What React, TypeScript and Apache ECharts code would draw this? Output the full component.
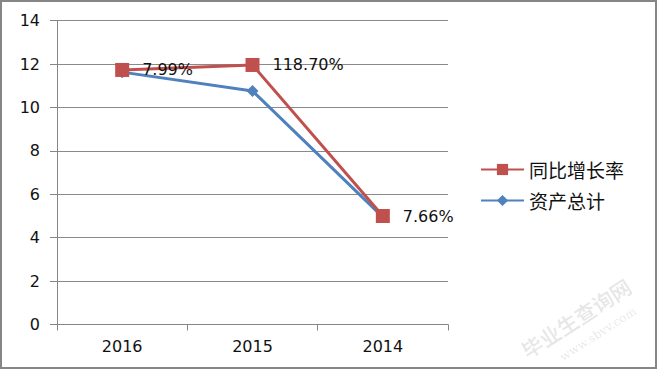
import React, { useEffect, useRef } from "react";
import * as echarts from "echarts";

const categories = ["2016", "2015", "2014"];
const growthName = "同比增长率";
const assetsName = "资产总计";
const growthValues = [11.73, 11.96, 5.0];
const assetsValues = [11.63, 10.76, 4.95];
const growthLabels = ["7.99%", "118.70%", "7.66%"];
const yTicks = { min: 0, max: 14, interval: 2 };

export default function App() {
  const ref = useRef<HTMLDivElement>(null);
  useEffect(() => {
    if (!ref.current) return;
    const chart = echarts.init(ref.current, undefined, { renderer: "svg" });
    const font = "DejaVu Sans";
    chart.setOption({
      animation: false,
      backgroundColor: "#ffffff",
      grid: { left: 57, right: 209, top: 20.7, bottom: 44.5, containLabel: false },
      xAxis: {
        type: "category",
        data: categories,
        boundaryGap: true,
        axisLine: { lineStyle: { color: "#868686", width: 1 } },
        axisTick: { show: true, length: 6, lineStyle: { color: "#868686" } },
        axisLabel: { color: "#111", fontSize: 16, fontFamily: font, margin: 14 },
      },
      yAxis: {
        type: "value",
        min: yTicks.min,
        max: yTicks.max,
        interval: yTicks.interval,
        axisLine: { show: true, lineStyle: { color: "#868686", width: 1 } },
        axisTick: { show: true, length: 7, lineStyle: { color: "#868686" } },
        axisLabel: { color: "#111", fontSize: 16, fontFamily: font, margin: 17 },
        splitLine: { show: true, lineStyle: { color: "#8a8a8a", width: 1 } },
      },
      legend: {
        orient: "vertical",
        left: 480,
        top: 160,
        padding: 0,
        itemWidth: 43,
        itemHeight: 14,
        itemGap: 12,
        data: [growthName, assetsName],
        textStyle: { fontSize: 19, fontFamily: "Noto Sans CJK SC", color: "#111" },
      },
      series: [
        {
          name: growthName,
          type: "line",
          data: growthValues,
          z: 3,
          symbol: "rect",
          symbolSize: 14,
          itemStyle: { color: "#C0504D" },
          lineStyle: { color: "#C0504D", width: 3 },
          label: {
            show: true,
            position: "right",
            distance: 13,
            color: "#111",
            fontSize: 16,
            fontFamily: font,
            formatter: (p: any) => growthLabels[p.dataIndex],
          },
        },
        {
          name: assetsName,
          type: "line",
          data: assetsValues,
          z: 2,
          symbol: "diamond",
          symbolSize: 12,
          itemStyle: { color: "#4F81BD" },
          lineStyle: { color: "#4F81BD", width: 3 },
        },
      ],
      graphic: [
        {
          type: "rect",
          shape: { x: 1, y: 1, width: 655, height: 367 },
          style: { fill: "none", stroke: "#868686", lineWidth: 2 },
          z: 100,
        },
        {
          type: "text",
          x: 576,
          y: 318,
          rotation: (33 * Math.PI) / 180,
          style: {
            text: "毕业生查询网",
            fontSize: 21,
            fontWeight: "bold",
            fontFamily: "Noto Sans CJK SC",
            fill: "rgba(0,0,0,0.09)",
            align: "center",
            verticalAlign: "middle",
          },
          z: 100,
        },
        {
          type: "text",
          x: 598,
          y: 334,
          rotation: (33 * Math.PI) / 180,
          style: {
            text: "www.sbvv.com",
            fontSize: 12,
            fontFamily: "DejaVu Serif",
            fill: "rgba(0,0,0,0.11)",
            align: "center",
            verticalAlign: "middle",
          },
          z: 100,
        },
      ],
    });
    return () => chart.dispose();
  }, []);
  return (
    <div
      ref={ref}
      style={{ position: "fixed", left: 0, top: 0, width: 657, height: 369 }}
    />
  );
}
